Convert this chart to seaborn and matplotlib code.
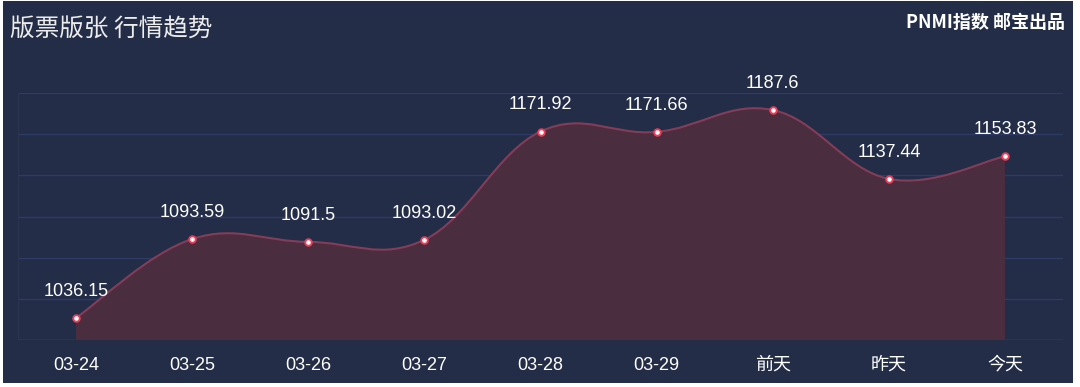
import numpy as np
import pandas as pd
import matplotlib.pyplot as plt
from matplotlib.path import Path
from matplotlib.patches import PathPatch, Rectangle
import seaborn as sns

# data
dates = ["03-24", "03-25", "03-26", "03-27", "03-28", "03-29", "前天", "昨天", "今天"]
prices = [1036.15, 1093.59, 1091.5, 1093.02, 1171.92, 1171.66, 1187.6, 1137.44, 1153.83]
price_labels = ["1036.15", "1093.59", "1091.5", "1093.02", "1171.92", "1171.66", "1187.6", "1137.44", "1153.83"]

BG = "#232d47"
GRID = "#2e3b66"
NUM_FONT = ['Liberation Sans', 'Noto Sans CJK SC']

sns.set_style("dark")
plt.rcParams['font.family'] = ['Noto Sans CJK SC', 'DejaVu Sans']

df = pd.DataFrame({"idx": np.arange(len(dates)), "price": prices})

fig = plt.figure(figsize=(10.8, 3.87), dpi=100)
fig.patch.set_facecolor("white")
fig.patches.append(Rectangle((3 / 1080, 4 / 387), 1070 / 1080, 382 / 387,
                             transform=fig.transFigure, facecolor=BG, edgecolor="none", zorder=-10))

ax = fig.add_axes([18 / 1080, 47 / 387, 1045 / 1080, 247 / 387])
ax.set_facecolor(BG)
ax.set_xlim(-0.5, len(dates) - 0.5)
ax.set_ylim(1020, 1200)
ax.set_yticks(np.arange(1020, 1201, 30))
ax.set_yticklabels([])
ax.grid(axis="y", color=GRID, linewidth=1)
ax.grid(axis="x", visible=False)
for s in ["top", "right", "bottom"]:
    ax.spines[s].set_visible(False)
ax.spines["left"].set_color("#2c3550")
ax.axhline(1020, color="#2c3550", linewidth=1.2, zorder=1)
ax.tick_params(axis="y", length=6, color="#2c3550")

# smooth curve through the points (bezier like echarts smooth)
x = df["idx"].to_numpy(dtype=float)
y = df["price"].to_numpy(dtype=float)
k = 0.19
verts = [(x[0], y[0])]
codes = [Path.MOVETO]
for i in range(len(x) - 1):
    p0 = np.array([x[i - 1], y[i - 1]]) if i > 0 else np.array([x[i], y[i]])
    p1 = np.array([x[i], y[i]])
    p2 = np.array([x[i + 1], y[i + 1]])
    p3 = np.array([x[i + 2], y[i + 2]]) if i + 2 < len(x) else p2
    c1 = p1 + (p2 - p0) * k
    c2 = p2 - (p3 - p1) * k
    verts += [tuple(c1), tuple(c2), tuple(p2)]
    codes += [Path.CURVE4] * 3

line_path = Path(verts, codes)
ax.add_patch(PathPatch(line_path, facecolor="none", edgecolor="#853c57", linewidth=1.5, zorder=4))

fill_verts = verts + [(x[-1], 1020), (x[0], 1020), (x[0], y[0])]
fill_codes = codes + [Path.LINETO, Path.LINETO, Path.CLOSEPOLY]
ax.add_patch(PathPatch(Path(fill_verts, fill_codes), facecolor="#4a2d3f", edgecolor="none", zorder=3))

sns.scatterplot(data=df, x="idx", y="price", ax=ax, s=22, color="white",
                edgecolor="#e8405a", linewidth=1.4, zorder=5, legend=False)

for xi, yi, lab in zip(x, y, price_labels):
    ax.annotate(lab, (xi, yi), xytext=(0, 13), textcoords="offset points",
                ha="center", va="bottom", color="white", fontsize=13, family=NUM_FONT, zorder=6)

ax.set_xticks(x)
ax.set_xticklabels(dates, color="white", fontsize=13, family=NUM_FONT)
ax.tick_params(axis="x", length=0, pad=12)
ax.set_xlabel("")
ax.set_ylabel("")

fig.text(10 / 1080, 1 - 30 / 387, "版票版张 行情趋势", color="#ececec", fontsize=17.7,
         ha="left", va="center")
fig.text(1065 / 1080, 1 - 22 / 387, "PNMI指数 邮宝出品", color="white", fontsize=13,
         fontweight="bold", ha="right", va="center")

fig.savefig("out.png", dpi=100, facecolor=fig.get_facecolor())
